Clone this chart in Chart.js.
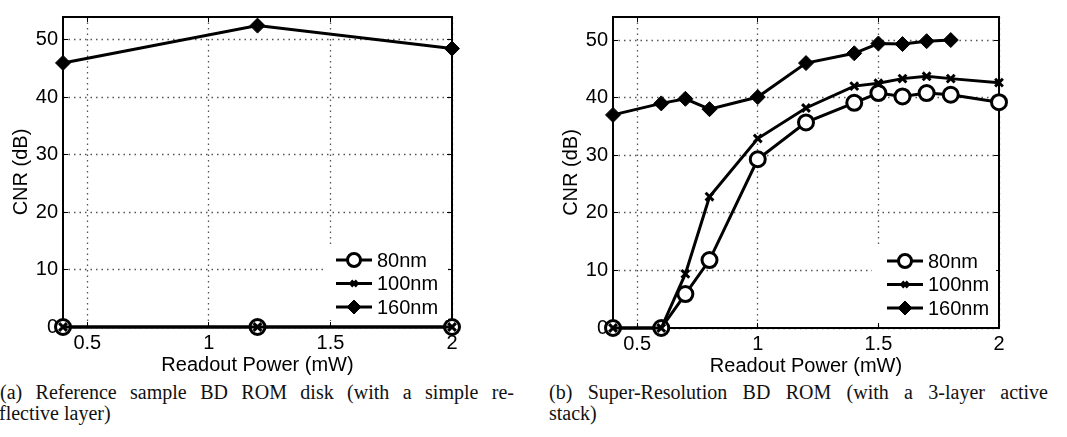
<!DOCTYPE html>
<html><head><meta charset="utf-8">
<script src="https://cdn.jsdelivr.net/npm/chart.js@4/dist/chart.umd.min.js"></script>
<style>
html,body{margin:0;padding:0;background:#fff;width:1067px;height:437px;overflow:hidden;position:relative}
#ca{position:absolute;left:0;top:0}
#cb{position:absolute;left:550px;top:0}
.cap{position:absolute;font-family:"Liberation Serif",serif;font-size:20px;color:#111;white-space:nowrap;line-height:21px}
.just{text-align:justify;text-align-last:justify;white-space:normal}
</style></head><body>
<canvas id="ca" width="540" height="380"></canvas>
<canvas id="cb" width="517" height="381"></canvas>
<div class="cap just" style="left:0px;top:382px;width:514px">(a) Reference sample BD ROM disk (with a simple re-</div>
<div class="cap" style="left:-1px;top:403px">flective layer)</div>
<div class="cap just" style="left:549px;top:382px;width:499px">(b) Super-Resolution BD ROM (with a 3-layer active</div>
<div class="cap" style="left:549px;top:403px">stack)</div>
<script>
// ---- data ----
const seriesNames = ['80nm', '100nm', '160nm'];
const xTicks = [0.5, 1, 1.5, 2];
const yTicks = [0, 10, 20, 30, 40, 50];

const powerA = [0.4, 1.2, 2.0];
const cnrA_80 = [0, 0, 0];
const cnrA_100 = [0, 0, 0];
const cnrA_160 = [46, 52.5, 48.5];

const powerB = [0.4, 0.6, 0.7, 0.8, 1.0, 1.2, 1.4, 1.5, 1.6, 1.7, 1.8, 2.0];
const cnrB_80 = [0, 0, 5.9, 11.8, 29.3, 35.7, 39.1, 40.8, 40.2, 40.8, 40.5, 39.2];
const cnrB_100 = [0, 0, 9.4, 22.8, 32.9, 38.2, 42.0, 42.5, 43.3, 43.7, 43.3, 42.6];
const cnrB_160 = [37.0, 39.0, 39.8, 38.0, 40.1, 46.0, 47.7, 49.4, 49.3, 49.8, 50.0];

// ---- styles ----
const FONT = {family: '"Liberation Sans", Arial, sans-serif', size: 20};
const markerStyles = [
  {pointStyle: 'circle', pointRadius: 7.5, pointBorderWidth: 3, pointBackgroundColor: '#fff', legendRadius: 6.5},
  {pointStyle: 'crossRot', pointRadius: 5.5, pointBorderWidth: 3, pointBackgroundColor: '#000', legendRadius: 4},
  {pointStyle: 'rectRot', pointRadius: 7.5, pointBorderWidth: 1, pointBackgroundColor: '#000', legendRadius: 7}
];

const framePlugin = {
  id: 'frame',
  beforeDatasetsDraw(chart) {
    const {ctx, chartArea: a, scales} = chart;
    ctx.save();
    // dotted grid
    ctx.strokeStyle = '#555';
    ctx.lineWidth = 1.3;
    ctx.setLineDash([1.5, 4]);
    xTicks.forEach(v => {
      const px = Math.floor(scales.x.getPixelForValue(v)) + 0.5;
      ctx.beginPath(); ctx.moveTo(px, a.top); ctx.lineTo(px, a.bottom); ctx.stroke();
    });
    yTicks.forEach(v => {
      const py = Math.floor(scales.y.getPixelForValue(v)) + 0.5;
      ctx.beginPath(); ctx.moveTo(a.left, py); ctx.lineTo(a.right, py); ctx.stroke();
    });
    ctx.setLineDash([]);
    // inward tick marks
    ctx.strokeStyle = '#000';
    ctx.lineWidth = 1;
    ctx.beginPath();
    const L = 5;
    xTicks.forEach(v => {
      const px = Math.floor(scales.x.getPixelForValue(v)) + 0.5;
      ctx.moveTo(px, a.bottom); ctx.lineTo(px, a.bottom - L);
      ctx.moveTo(px, a.top); ctx.lineTo(px, a.top + L);
    });
    yTicks.forEach(v => {
      const py = Math.floor(scales.y.getPixelForValue(v)) + 0.5;
      ctx.moveTo(a.left, py); ctx.lineTo(a.left + L, py);
      ctx.moveTo(a.right, py); ctx.lineTo(a.right - L, py);
    });
    ctx.stroke();
    // box
    ctx.lineWidth = 2;
    ctx.strokeRect(Math.round(a.left), Math.round(a.top), Math.round(a.right - a.left), Math.round(a.bottom - a.top));
    ctx.restore();
  },
  afterDatasetsDraw(chart, args, opts) {
    const {ctx, chartArea: a} = chart;
    const bx = a.right + opts.boxLeft, bw = opts.boxWidth;
    const by = a.bottom - 82, bh = 75;
    ctx.save();
    ctx.fillStyle = '#fff';
    ctx.fillRect(bx, by, bw, bh);
    chart.data.datasets.forEach((ds, i) => {
      const y = a.bottom - 67 + i * 23.5;
      const x0 = a.right + opts.lineStart, x1 = x0 + 36;
      ctx.strokeStyle = '#000';
      ctx.lineWidth = 3;
      ctx.beginPath(); ctx.moveTo(x0, y); ctx.lineTo(x1, y); ctx.stroke();
      const m = markerStyles[i];
      ctx.fillStyle = m.pointBackgroundColor;
      ctx.lineWidth = m.pointBorderWidth;
      Chart.helpers.drawPoint(ctx, {pointStyle: m.pointStyle, radius: m.legendRadius, borderWidth: m.pointBorderWidth, rotation: 0}, (x0 + x1) / 2, y);
      ctx.fillStyle = '#000';
      ctx.font = FONT.size + 'px ' + FONT.family;
      ctx.textAlign = 'left';
      ctx.textBaseline = 'middle';
      ctx.fillText(ds.label, x1 + 5, y + 1);
    });
    ctx.restore();
  }
};

function makeChart(id, xs, series, padTop, padRight, legendOpts) {
  const datasets = series.map((vals, i) => {
    const m = markerStyles[i];
    return {
      label: seriesNames[i],
      data: vals.map((v, j) => ({x: xs[j], y: v})),
      borderColor: '#000', borderWidth: 3, tension: 0, fill: false,
      pointStyle: m.pointStyle, pointRadius: m.pointRadius, pointBorderWidth: m.pointBorderWidth,
      pointBackgroundColor: m.pointBackgroundColor, pointBorderColor: '#000',
      order: 3 - i, clip: false
    };
  });
  return new Chart(document.getElementById(id), {
    type: 'line',
    data: {datasets},
    options: {
      responsive: false, animation: false, devicePixelRatio: 1,
      layout: {padding: {top: padTop, right: padRight, left: 0, bottom: 0}},
      plugins: {legend: {display: false}, tooltip: {enabled: false}, frame: legendOpts},
      scales: {
        x: {
          type: 'linear', min: 0.4, max: 2,
          afterBuildTicks: s => { s.ticks = xTicks.map(v => ({value: v})); },
          afterFit: s => { s.height = 53; },
          ticks: {font: FONT, color: '#000', padding: 4, callback: v => String(v), maxRotation: 0, autoSkip: false},
          grid: {display: false, drawTicks: false},
          border: {display: false},
          title: {display: true, text: 'Readout Power (mW)', font: FONT, color: '#000', padding: {top: 0, bottom: 3}}
        },
        y: {
          type: 'linear', min: 0, max: 54,
          afterBuildTicks: s => { s.ticks = yTicks.map(v => ({value: v})); },
          afterFit: s => { s.width = 63; },
          ticks: {font: FONT, color: '#000', padding: 5, autoSkip: false},
          grid: {display: false, drawTicks: false},
          border: {display: false},
          title: {display: true, text: 'CNR (dB)', font: FONT, color: '#000', padding: {top: 9, bottom: 0}}
        }
      }
    },
    plugins: [framePlugin]
  });
}

makeChart('ca', powerA, [cnrA_80, cnrA_100, cnrA_160], 8, 88, {boxLeft: -126, boxWidth: 122, lineStart: -116});
makeChart('cb', powerB, [cnrB_80, cnrB_100, cnrB_160], 9, 68, {boxLeft: -127, boxWidth: 124, lineStart: -112});
</script>
</body></html>
